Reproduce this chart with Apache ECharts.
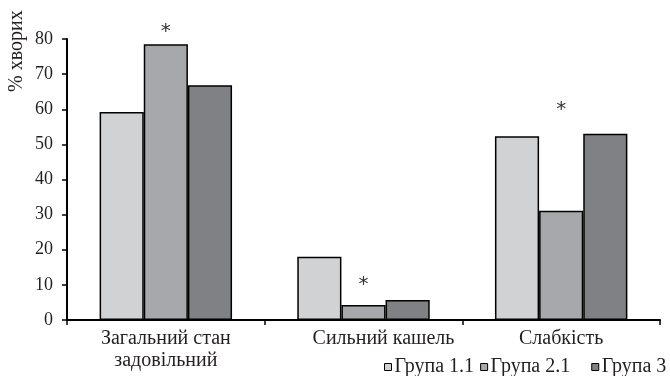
<!DOCTYPE html>
<html>
<head>
<meta charset="utf-8">
<script src="https://cdn.jsdelivr.net/npm/echarts@6/dist/echarts.min.js"></script>
<style>
  html, body { margin: 0; padding: 0; background: #fff; }
  #chart { width: 670px; height: 376px; }
</style>
</head>
<body>
<div id="chart"></div>
<script>
// Symptom categories and group shares (% of patients)
const categories = ['Загальний стан\nзадовільний', 'Сильний кашель', 'Слабкість'];
const group11 = [59.2, 18.0, 52.3];
const group21 = [78.5, 4.3, 31.1];
const group3 = [66.8, 5.7, 53.0];
const groupNames = ['Група 1.1', 'Група 2.1', 'Група 3'];
// significance markers drawn above the Група 2.1 bars
const marks21 = ['*', '*', '*'];
const yTicks = [0, 10, 20, 30, 40, 50, 60, 70, 80];

const FONT = 'Liberation Serif';
const colors = ['#d1d2d4', '#a7a8ab', '#808184'];
const textColor = '#231f20';

const chart = echarts.init(document.getElementById('chart'), null, { renderer: 'canvas' });

function barSeries(name, data, color, extra) {
  return Object.assign({
    name: name,
    type: 'bar',
    data: data,
    barGap: '0%',
    barCategoryGap: '33%',
    itemStyle: { color: color, borderColor: '#000', borderWidth: 1.5 },
    emphasis: { disabled: true }
  }, extra || {});
}

// extra lift of each marker above its bar, in pixels
const markLift = [0, -8, -89];
const data21 = group21.map((v, i) => ({
  value: v,
  label: { offset: [0, markLift[i]] }
}));

// the middle category caption sits a little right of its group centre
const categoryItems = categories.map((c, i) => (
  i === 1 ? { value: c, textStyle: { padding: [0, 0, 0, 40] } } : c
));

chart.setOption({
  animation: false,
  textStyle: { fontFamily: FONT },
  grid: { left: 67, right: 10, top: 39, bottom: 56 },
  legend: {
    left: 384,
    top: 357,
    itemWidth: 7,
    itemHeight: 7,
    itemGap: 6,
    icon: 'rect',
    padding: 0,
    data: groupNames,
    formatter: name => (name === groupNames[1] ? name + '   ' : name),
    textStyle: { fontFamily: FONT, fontSize: 20, color: textColor, padding: [0, 0, 0, -2] },
    itemStyle: { borderColor: '#000', borderWidth: 1 }
  },
  xAxis: {
    type: 'category',
    data: categoryItems,
    boundaryGap: true,
    axisLine: { lineStyle: { color: '#000', width: 2 } },
    axisTick: { show: true, length: 5, lineStyle: { color: '#000', width: 1.5 } },
    axisLabel: { fontFamily: FONT, fontSize: 20, color: textColor, margin: 8, lineHeight: 22, interval: 0 }
  },
  yAxis: {
    type: 'value',
    min: yTicks[0],
    max: yTicks[yTicks.length - 1],
    interval: 10,
    splitLine: { show: false },
    axisLine: { show: true, lineStyle: { color: '#000', width: 2 } },
    axisTick: { show: true, length: 5, lineStyle: { color: '#000', width: 1.5 } },
    axisLabel: { fontFamily: FONT, fontSize: 18, color: textColor, margin: 14 }
  },
  graphic: [{
    type: 'text',
    x: 27,
    y: 92,
    rotation: Math.PI / 2,
    style: {
      text: '% хворих',
      font: '20px "Liberation Serif"',
      fill: textColor,
      align: 'left',
      verticalAlign: 'bottom'
    }
  }],
  series: [
    barSeries(groupNames[0], group11, colors[0]),
    barSeries(groupNames[1], data21, colors[1], {
      label: {
        show: true,
        position: 'top',
        distance: 2,
        formatter: p => marks21[p.dataIndex],
        fontFamily: 'DejaVu Sans',
        fontSize: 20,
        color: '#333'
      }
    }),
    barSeries(groupNames[2], group3, colors[2])
  ]
});
</script>
</body>
</html>
